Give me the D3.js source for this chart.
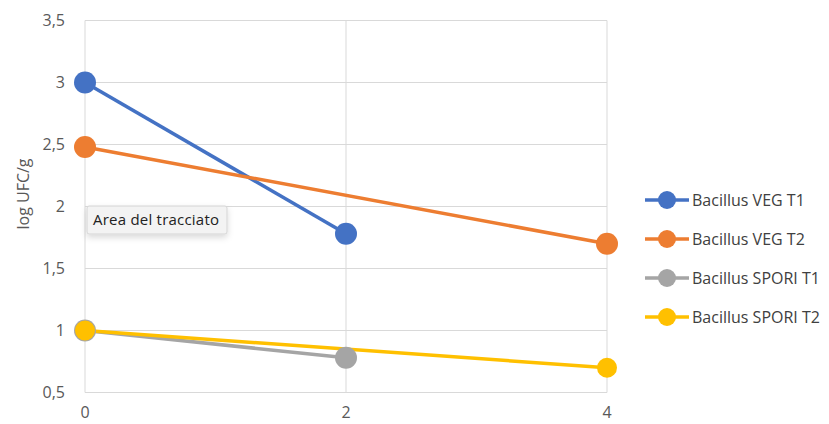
<!DOCTYPE html>
<html>
<head>
<meta charset="utf-8">
<script src="https://cdn.jsdelivr.net/npm/d3@7"></script>
<style>
  body { margin: 0; background: #fff; }
  svg { font-family: "Open Sans", "Liberation Sans", sans-serif; }
</style>
</head>
<body>
<script>
// series data (x = time, y = log UFC/g)
const seriesNames = ["Bacillus VEG T1", "Bacillus VEG T2", "Bacillus SPORI T1", "Bacillus SPORI T2"];
const seriesColors = ["#4472C4", "#ED7D31", "#A5A5A5", "#FFC000"];
const vegT1 = [[0, 3.0], [2, 1.78]];
const vegT2 = [[0, 2.48], [4, 1.70]];
const sporiT1 = [[0, 1.0], [2, 0.78]];
const sporiT2 = [[0, 1.0], [4, 0.70]];
const yTicks = [0.5, 1, 1.5, 2, 2.5, 3, 3.5];
const xTicks = [0, 2, 4];

const allSeries = [vegT1, vegT2, sporiT1, sporiT2];

const width = 829, height = 424;

const svg = d3.select("body").append("svg")
    .attr("width", width)
    .attr("height", height);

const x = d3.scaleLinear().domain([0, 4]).range([85, 607]);
const y = d3.scaleLinear().domain([0.5, 3.5]).range([392.5, 20.5]);

const fmt = d => String(d).replace(".", ",");

// horizontal grid
svg.append("g")
    .selectAll("line")
    .data(yTicks)
    .enter()
    .append("line")
    .attr("x1", x(0)).attr("x2", x(4))
    .attr("y1", d => y(d)).attr("y2", d => y(d))
    .attr("stroke", "#d9d9d9").attr("stroke-width", 1);

// vertical grid
svg.append("g")
    .selectAll("line")
    .data(xTicks)
    .enter()
    .append("line")
    .attr("x1", d => x(d)).attr("x2", d => x(d))
    .attr("y1", y(3.5)).attr("y2", y(0.5))
    .attr("stroke", "#d9d9d9").attr("stroke-width", 1);

// y tick labels
svg.append("g")
    .selectAll("text")
    .data(yTicks)
    .enter()
    .append("text")
    .attr("x", 65)
    .attr("y", d => y(d))
    .attr("dy", "0.35em")
    .attr("text-anchor", "end")
    .attr("font-size", 16)
    .attr("fill", "#595959")
    .text(fmt);

// x tick labels
svg.append("g")
    .selectAll("text")
    .data(xTicks)
    .enter()
    .append("text")
    .attr("x", d => x(d))
    .attr("y", 418)
    .attr("text-anchor", "middle")
    .attr("font-size", 16)
    .attr("fill", "#595959")
    .text(d => d);

// y axis title
svg.append("text")
    .attr("transform", "translate(29,194) rotate(-90)")
    .attr("text-anchor", "middle")
    .attr("font-size", 16)
    .attr("fill", "#595959")
    .text("log UFC/g");

const line = d3.line().x(d => x(d[0])).y(d => y(d[1]));

// lines + markers
allSeries.forEach((s, i) => {
    svg.append("path")
        .datum(s)
        .attr("d", line)
        .attr("fill", "none")
        .attr("stroke", seriesColors[i])
        .attr("stroke-width", 3.5);
});
allSeries.forEach((s, i) => {
    svg.append("g")
        .selectAll("circle")
        .data(s)
        .enter()
        .append("circle")
        .attr("cx", d => x(d[0]))
        .attr("cy", d => y(d[1]))
        .attr("r", i === 3 ? 10 : 11)
        .attr("fill", seriesColors[i]);
});

// tooltip box "Area del tracciato"
const defs = svg.append("defs");
const filt = defs.append("filter").attr("id", "shadow")
    .attr("x", "-20%").attr("y", "-30%").attr("width", "140%").attr("height", "200%");
filt.append("feDropShadow").attr("dx", 0).attr("dy", 3).attr("stdDeviation", 3)
    .attr("flood-color", "#000").attr("flood-opacity", 0.15);

const tip = svg.append("g").attr("transform", "translate(87,206)");
tip.append("rect")
    .attr("width", 140).attr("height", 28)
    .attr("rx", 2)
    .attr("fill", "#f3f3f3")
    .attr("stroke", "#d4d4d4")
    .attr("filter", "url(#shadow)");
tip.append("text")
    .attr("x", 6).attr("y", 19)
    .attr("font-size", 15)
    .attr("textLength", 126)
    .attr("fill", "#222")
    .text("Area del tracciato");

// legend
const legendY = [200, 239, 278, 317];
const legend = svg.append("g")
    .selectAll("g")
    .data(seriesNames)
    .enter()
    .append("g")
    .attr("transform", (d, i) => "translate(0," + legendY[i] + ")");

legend.append("line")
    .attr("x1", 645).attr("x2", 689)
    .attr("stroke", (d, i) => seriesColors[i])
    .attr("stroke-width", 3.5);
legend.append("circle")
    .attr("cx", 667).attr("r", 9)
    .attr("fill", (d, i) => seriesColors[i]);
legend.append("text")
    .attr("x", 692)
    .attr("dy", "0.35em")
    .attr("font-size", 16)
    .attr("fill", "#404040")
    .text(d => d);
</script>
</body>
</html>
